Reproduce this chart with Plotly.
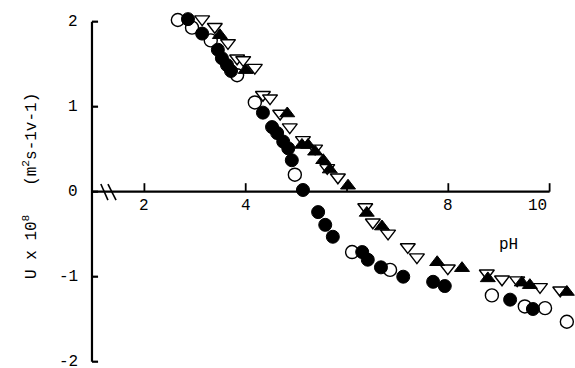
import plotly.graph_objects as go

# ---- data (pH, U x 1e8) ----
open_circ_x = [2.66, 2.94, 3.31, 3.83, 4.18, 4.97, 6.10, 6.85, 8.86, 9.51, 9.91, 10.34]
open_circ_y = [2.02, 1.93, 1.78, 1.37, 1.05, 0.20, -0.71, -0.92, -1.22, -1.35, -1.37, -1.53]

fill_circ_x = [2.86, 3.14, 3.45, 3.53, 3.63, 3.71, 4.34, 4.52, 4.62, 4.74, 4.84, 4.91,
               5.13, 5.43, 5.57, 5.72, 6.30, 6.41, 6.67, 7.11, 7.70, 7.93, 9.22, 9.67]
fill_circ_y = [2.03, 1.86, 1.67, 1.57, 1.49, 1.42, 0.93, 0.76, 0.69, 0.59, 0.51, 0.37,
               0.02, -0.24, -0.39, -0.53, -0.71, -0.80, -0.89, -1.00, -1.06, -1.11, -1.27, -1.38]

open_tri_x = [3.14, 3.39, 3.65, 3.83, 3.95, 4.18, 4.34, 4.48, 4.68, 4.87, 5.13, 5.37, 5.61,
              5.82, 6.36, 6.51, 6.81, 7.20, 7.38, 7.99, 8.76, 9.06, 9.36, 9.81, 10.21]
open_tri_y = [2.03, 1.94, 1.75, 1.57, 1.55, 1.46, 1.14, 1.10, 0.92, 0.76, 0.61, 0.51, 0.28,
              0.17, -0.18, -0.36, -0.49, -0.65, -0.77, -0.90, -0.96, -1.03, -1.04, -1.12, -1.16]

fill_tri_x = [3.49, 4.00, 4.82, 5.11, 5.23, 5.37, 5.53, 5.66, 6.02, 6.39, 6.69, 7.78, 8.27,
              8.78, 9.45, 9.61, 10.34]
fill_tri_y = [1.84, 1.43, 0.92, 0.55, 0.55, 0.47, 0.37, 0.26, 0.07, -0.25, -0.41, -0.83, -0.90,
              -1.02, -1.07, -1.10, -1.18]

x_ticks = [2, 4, 6, 8, 10]
x_tick_labels = {2: "2", 4: "4", 8: "8", 10: "10"}
y_ticks = [2, 1, 0, -1, -2]
y_tick_labels = ["2", "1", "0", "-1", "-2"]

FONT = "Liberation Mono, Courier New, monospace"
AX_X = 0.965
MS = 13

fig = go.Figure()
fig.add_trace(go.Scatter(x=open_circ_x, y=open_circ_y, mode="markers",
                         marker=dict(symbol="circle", size=MS, color="white",
                                     line=dict(color="black", width=1.4))))
fig.add_trace(go.Scatter(x=open_tri_x, y=open_tri_y, mode="markers",
                         marker=dict(symbol="triangle-down", size=MS, color="white",
                                     line=dict(color="black", width=1.4))))
fig.add_trace(go.Scatter(x=fill_tri_x, y=fill_tri_y, mode="markers",
                         marker=dict(symbol="triangle-up", size=MS, color="black",
                                     line=dict(color="black", width=1))))
fig.add_trace(go.Scatter(x=fill_circ_x, y=fill_circ_y, mode="markers",
                         marker=dict(symbol="circle", size=MS, color="black",
                                     line=dict(color="black", width=1))))

shapes = []
line = dict(color="black", width=2.2)
# y axis
shapes.append(dict(type="line", x0=AX_X, x1=AX_X, y0=-2, y1=2, line=line))
for t in y_ticks:
    shapes.append(dict(type="line", x0=AX_X, x1=AX_X + 0.12, y0=t, y1=t, line=line))
# x axis
shapes.append(dict(type="line", x0=AX_X, x1=10, y0=0, y1=0, line=line))
for t in x_ticks:
    shapes.append(dict(type="line", x0=t, x1=t, y0=0, y1=0.1, line=dict(color="black", width=1.8)))
# axis break marks
shapes.append(dict(type="line", x0=1.14, x1=1.28, y0=0.09, y1=-0.10, line=dict(color="black", width=1.6)))
shapes.append(dict(type="line", x0=1.28, x1=1.44, y0=0.09, y1=-0.10, line=dict(color="black", width=1.6)))

ann = []
for t, lab in zip(y_ticks, y_tick_labels):
    ann.append(dict(x=0.73, y=t, text=lab, showarrow=False, xanchor="right", yanchor="middle",
                    font=dict(family=FONT, size=16, color="black")))
for t, lab in x_tick_labels.items():
    xx = 9.77 if t == 10 else t
    ann.append(dict(x=xx, y=-0.17, text=lab, showarrow=False, xanchor="center", yanchor="middle",
                    font=dict(family=FONT, size=16, color="black")))
ann.append(dict(x=9.19, y=-0.63, text="pH", showarrow=False, xanchor="center", yanchor="middle",
                font=dict(family=FONT, size=16, color="black")))
ann.append(dict(xref="paper", yref="paper", x=30 / 575, y=(368 - 186) / 368,
                text="U x 10<sup>8</sup>   (m<sup>2</sup>s-1v-1)", textangle=-90,
                showarrow=False, xanchor="center", yanchor="middle",
                font=dict(family=FONT, size=16, color="black")))

fig.update_layout(
    width=575, height=368, margin=dict(l=0, r=0, t=0, b=0),
    paper_bgcolor="white", plot_bgcolor="white", showlegend=False,
    xaxis=dict(range=[-0.851, 10.501], visible=False),
    yaxis=dict(range=[-2.074, 2.255], visible=False),
    shapes=shapes, annotations=ann,
)
fig.write_html("out.html", config={"displayModeBar": False},
               post_script="document.body.style.margin='0';document.body.style.overflow='hidden';")
